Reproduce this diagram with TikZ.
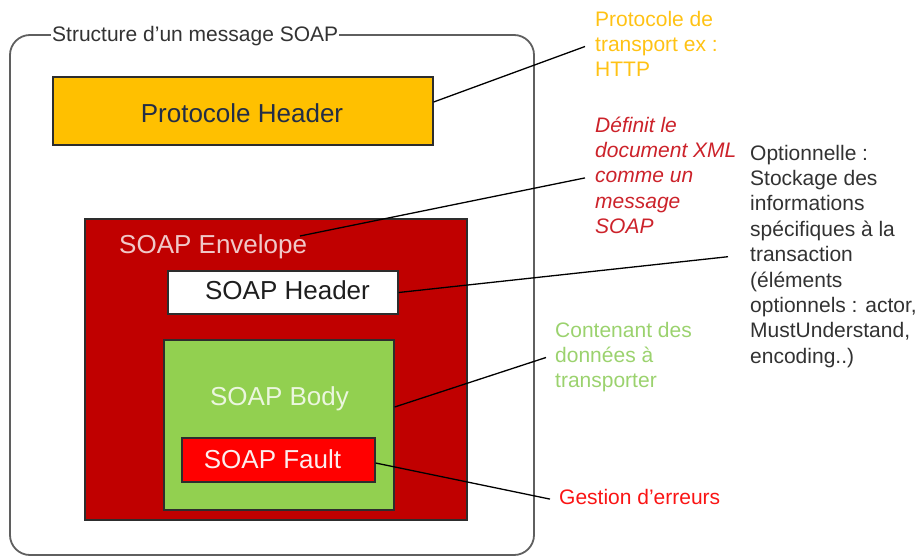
\documentclass[tikz,border=0pt]{standalone}
\usepackage{fontspec}
\setmainfont{Liberation Sans}
\definecolor{frameC}{RGB}{95,95,95}
\definecolor{borderC}{RGB}{45,45,45}
\definecolor{orangeF}{RGB}{255,192,0}
\definecolor{envF}{RGB}{192,0,0}
\definecolor{bodyF}{RGB}{146,208,80}
\definecolor{faultF}{RGB}{255,0,0}
\definecolor{phT}{RGB}{35,45,70}
\definecolor{envT}{RGB}{240,200,200}
\definecolor{bodyT}{RGB}{235,246,222}
\definecolor{faultT}{RGB}{252,238,238}
\definecolor{shT}{RGB}{30,30,30}
\definecolor{orangeT}{RGB}{255,194,20}
\definecolor{redT}{RGB}{204,34,42}
\definecolor{greenT}{RGB}{155,210,110}
\definecolor{gestT}{RGB}{250,20,20}
\definecolor{optT}{RGB}{50,50,50}
\begin{document}
\begin{tikzpicture}[x=1pt,y=-1pt,
  box/.style={draw=borderC, line width=1.3pt, inner sep=0pt},
  lbl/.style={font=\fontsize{26}{31}\selectfont, inner sep=0pt},
  note/.style={font=\fontsize{21}{25.4}\selectfont, inner sep=0pt, anchor=north west, align=left},
  conn/.style={draw=black, line width=1.3pt}]
\useasboundingbox (0,0) rectangle (920,557);
% outer frame
\draw[frameC, line width=1.8pt, rounded corners=20pt] (10,35) rectangle (534,555);
\node[fill=white, inner xsep=1pt, inner ysep=3pt, anchor=base west, font=\fontsize{21}{25}\selectfont, text=black!80] (title) at (51,41) {Structure d’un message SOAP};
% boxes
\node[box, fill=orangeF, minimum width=380pt, minimum height=68pt] (ph) at (243,111) {};
\node[lbl, text=phT, anchor=base] (phl) at (242,122) {Protocole Header};
\node[box, fill=envF, minimum width=382pt, minimum height=301pt] (env) at (276,369.5) {};
\node[lbl, text=envT, anchor=base west] (envl) at (119,253) {SOAP Envelope};
\node[box, fill=white, minimum width=230pt, minimum height=43pt] (sh) at (283,292.5) {};
\node[lbl, text=shT, anchor=base] (shl) at (287.5,299) {SOAP Header};
\node[box, fill=bodyF, minimum width=230pt, minimum height=170pt] (body) at (279,425) {};
\node[lbl, text=bodyT, anchor=base] (bodyl) at (279.5,405) {SOAP Body};
\node[box, fill=faultF, minimum width=193pt, minimum height=44pt] (fault) at (278.5,460) {};
\node[lbl, text=faultT, anchor=base] (faultl) at (272.5,468) {SOAP Fault};
% notes
\node[note, text=orangeT] (nOr) at (595,8.2) {\strut Protocole de\\transport ex :\\HTTP\strut};
\node[note, text=redT, font=\fontsize{21}{25.4}\selectfont\itshape] (nRed) at (595,114.2) {\strut Définit le\\document XML\\comme un\\message\\SOAP\strut};
\node[note, text=optT] (nOpt) at (750,142.2) {\strut Optionnelle :\\Stockage des\\informations\\spécifiques à la\\transaction\\(éléments\\optionnels : actor,\\MustUnderstand,\\encoding..)\strut};
\node[note, text=greenT] (nGr) at (555,319.2) {\strut Contenant des\\données à\\transporter\strut};
\node[note, text=gestT] (nGe) at (559,486.2) {\strut Gestion d’erreurs};
% connectors
\coordinate (envtip) at (300,236);
\draw[conn] ([yshift=9pt]ph.east) -- ([xshift=-10pt]nOr.west);
\draw[conn] (envtip) -- ([xshift=-10pt]nRed.west);
\draw[conn] (sh.east) -- ([xshift=-22pt]nOpt.west);
\draw[conn] ([yshift=18pt]body.east) -- ([xshift=-9pt]nGr.west);
\draw[conn] ([yshift=-3pt]fault.east) -- ([xshift=-9pt]nGe.west);
\end{tikzpicture}
\end{document}
